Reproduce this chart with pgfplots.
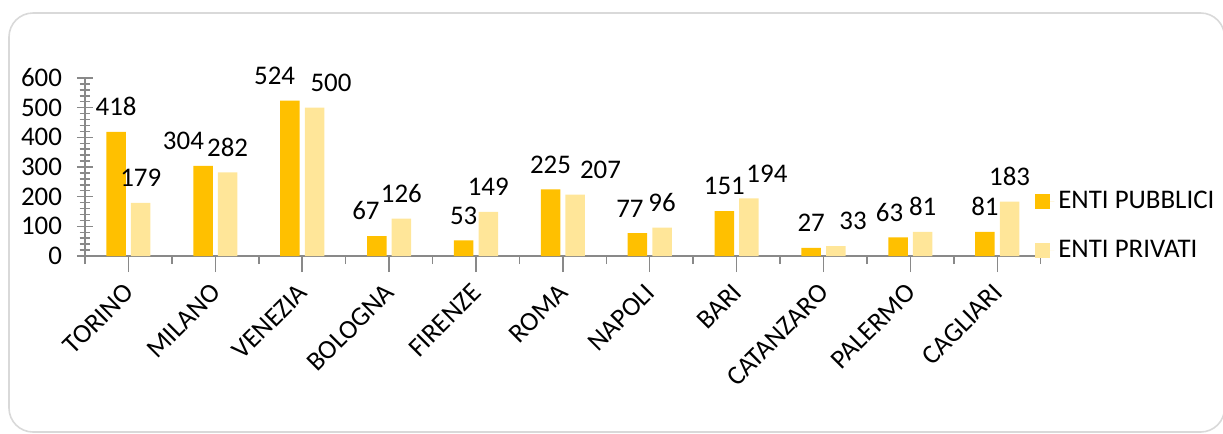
\documentclass[border=0pt]{standalone}
\usepackage{fontspec}
\setmainfont{Carlito}
\usepackage{pgfplots}
\usepackage{pgfplotstable}
\pgfplotsset{compat=1.18}

\definecolor{pubblici}{HTML}{FFC000}
\definecolor{privati}{HTML}{FFE699}
\definecolor{axisgray}{HTML}{898989}
\definecolor{framegray}{HTML}{D9D9D9}

\newcommand{\lbl}{\fontsize{13.5}{16}\selectfont}

% values, with the sideways shift (bp) of each value label
\pgfplotstableread{
x pub dxp priv dxv
0  418  0     179  0
1  304 -9.8   282  0
2  524 -7.65  500  8.25
3   67 -5.4   126  0
4   53  0     149  0
5  225  0     207  12.65
6   77 -3.75   96  0
7  151  0     194  9
8   27  0      33  8.6
9   63 -4.25   81  0
10  81  0     183  0
}\datatable

\begin{document}
\begin{tikzpicture}[x=1bp,y=1bp]
% page = 1223 x 433 px at 0.5bp per px, origin at the axis corner
\path[use as bounding box] (-42.5,-88.5) rectangle (569,128);
\draw[framegray, line width=0.8bp, rounded corners=12bp] (-38,-88) rectangle (569.8,121.5);

\begin{axis}[
    at={(0,0)}, anchor=south west,
    scale only axis,
    width=477.85bp, height=89bp,
    xmin=-0.5, xmax=10.5,
    ymin=0, ymax=600,
    axis x line=bottom, axis y line=left,
    axis line style={-, draw=axisgray, line width=0.75bp},
    tick style={draw=axisgray, line width=0.75bp},
    tick align=center,
    major tick length=8bp,
    minor tick length=5.3bp,
    ytick={0,100,...,600},
    minor y tick num=4,
    xtick={0,...,10},
    xticklabels={TORINO,MILANO,VENEZIA,BOLOGNA,FIRENZE,ROMA,NAPOLI,BARI,CATANZARO,PALERMO,CAGLIARI},
    extra x ticks={-0.5,0.5,...,10.5},
    extra x tick labels={},
    extra x tick style={tick align=outside, major tick length=4bp},
    /pgf/number format/assume math mode=true,
    xticklabel style={font=\lbl, text=black, rotate=45, anchor=east, yshift=-6bp, xshift=-2bp},
    yticklabel style={font=\lbl, text=black, xshift=-4bp},
    ybar=2.55bp,
    bar width=9.75bp,
    legend style={draw=none, fill=none, font=\lbl,
        at={(0.9877,0.17)}, anchor=west, row sep=10.5bp,
        legend cell align=left},
]
\addplot[fill=pubblici, draw=none,
    visualization depends on={\thisrow{dxp} \as \dx},
    nodes near coords,
    every node near coord/.append style={font=\lbl, text=black, yshift=4.5bp, xshift=\dx bp},
    legend image code/.code={\path (0bp,0bp) -- (9.5bp,0bp);
        \fill[pubblici] (0bp,-3.75bp) rectangle (7.5bp,3.75bp);}]
    table[x=x, y=pub] {\datatable};
\addlegendentry{ENTI PUBBLICI}
\addplot[fill=privati, draw=none,
    visualization depends on={\thisrow{dxv} \as \dx},
    nodes near coords,
    every node near coord/.append style={font=\lbl, text=black, yshift=4.5bp, xshift=\dx bp},
    legend image code/.code={\path (0bp,0bp) -- (9.5bp,0bp);
        \fill[privati] (0bp,-3.75bp) rectangle (7.5bp,3.75bp);}]
    table[x=x, y=priv] {\datatable};
\addlegendentry{ENTI PRIVATI}
\end{axis}
\end{tikzpicture}
\end{document}
